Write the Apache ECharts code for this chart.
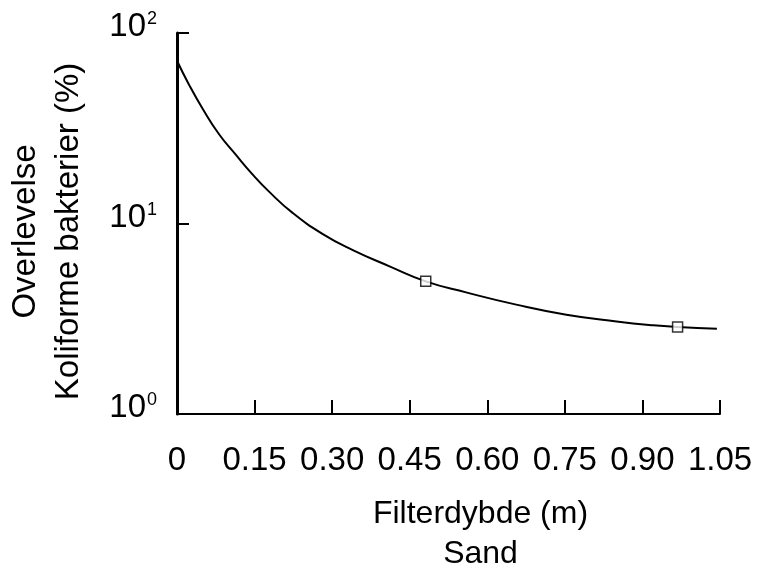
<!DOCTYPE html>
<html>
<head>
<meta charset="utf-8">
<script src="https://cdn.jsdelivr.net/npm/echarts@6/dist/echarts.min.js"></script>
<style>
  html, body { margin: 0; padding: 0; background: #fff; }
  #chart { width: 761px; height: 566px; }
</style>
</head>
<body>
<div id="chart"></div>
<script>
// 曲线读数：滤层深度 (m) 与存活率 (%)
const depth = [0, 0.023, 0.049, 0.081, 0.114, 0.146, 0.178, 0.223, 0.282, 0.340, 0.411, 0.481, 0.559, 0.656, 0.753, 0.850, 0.921, 0.968, 1.044]
const survival = [71.5, 53.7, 40.3, 29.5, 22.9, 18.1, 14.7, 11.4, 8.8, 7.25, 5.96, 4.97, 4.35, 3.75, 3.32, 3.06, 2.92, 2.86, 2.80]
// 方块标记点
const markerDepth = [0.481, 0.968]
const markerSurvival = [4.97, 2.86]
// 刻度标签
const xTickLabels = ['0', '0.15', '0.30', '0.45', '0.60', '0.75', '0.90', '1.05']
const yExponents = [0, 1, 2]

const font = 'Liberation Sans, Arial, Helvetica, sans-serif'

const chart = echarts.init(document.getElementById('chart'))

const option = {
  backgroundColor: '#fff',
  animation: false,
  grid: {
    left: 177,
    right: 41,
    top: 33,
    bottom: 152,
    outerBoundsMode: 'none'
  },
  xAxis: {
    type: 'value',
    min: 0,
    max: 1.05,
    interval: 0.15,
    name: 'Filterdybde (m)\nSand',
    nameLocation: 'middle',
    nameGap: 80,
    nameTextStyle: {
      fontFamily: font,
      fontSize: 32,
      lineHeight: 40,
      color: '#000',
      padding: [0, 0, 0, 64]
    },
    axisLine: { show: true, lineStyle: { color: '#000', width: 2 } },
    axisTick: { show: true, inside: true, length: 14, lineStyle: { color: '#000', width: 2 } },
    splitLine: { show: false },
    axisLabel: {
      margin: 30,
      fontFamily: font,
      fontSize: 33,
      color: '#000',
      formatter: (v, i) => xTickLabels[i]
    }
  },
  yAxis: {
    type: 'log',
    logBase: 10,
    min: 1,
    max: 100,
    name: 'Overlevelse\nKoliforme bakterier (%)',
    nameLocation: 'middle',
    nameRotate: 90,
    nameGap: 87,
    nameTextStyle: {
      fontFamily: font,
      fontSize: 33,
      lineHeight: 43,
      color: '#000',
      padding: [0, 16, 0, 0]
    },
    axisLine: { show: true, lineStyle: { color: '#000', width: 3 } },
    axisTick: { show: true, inside: true, length: 12, lineStyle: { color: '#000', width: 2 } },
    splitLine: { show: false },
    axisLabel: {
      margin: 20,
      padding: [0, 0, 12, 0],
      formatter: function (v) {
        const e = Math.round(Math.log10(v))
        return yExponents.includes(e) ? '{b|10}{s|' + e + '}' : ''
      },
      rich: {
        b: { fontFamily: font, fontSize: 33, color: '#000' },
        s: { fontFamily: font, fontSize: 18, color: '#000', verticalAlign: 'top', padding: [0, 0, 14, 1] }
      }
    }
  },
  series: [
    {
      type: 'line',
      data: depth.map((d, i) => [d, survival[i]]),
      smooth: 0.5,
      showSymbol: false,
      symbol: 'none',
      lineStyle: { color: '#000', width: 2 },
      z: 2
    },
    {
      type: 'scatter',
      data: markerDepth.map((d, i) => [d, markerSurvival[i]]),
      symbol: 'rect',
      symbolSize: 10,
      itemStyle: { color: '#fff', borderColor: '#000', borderWidth: 1.5 },
      z: 3
    }
  ]
}

chart.setOption(option)
</script>
</body>
</html>
